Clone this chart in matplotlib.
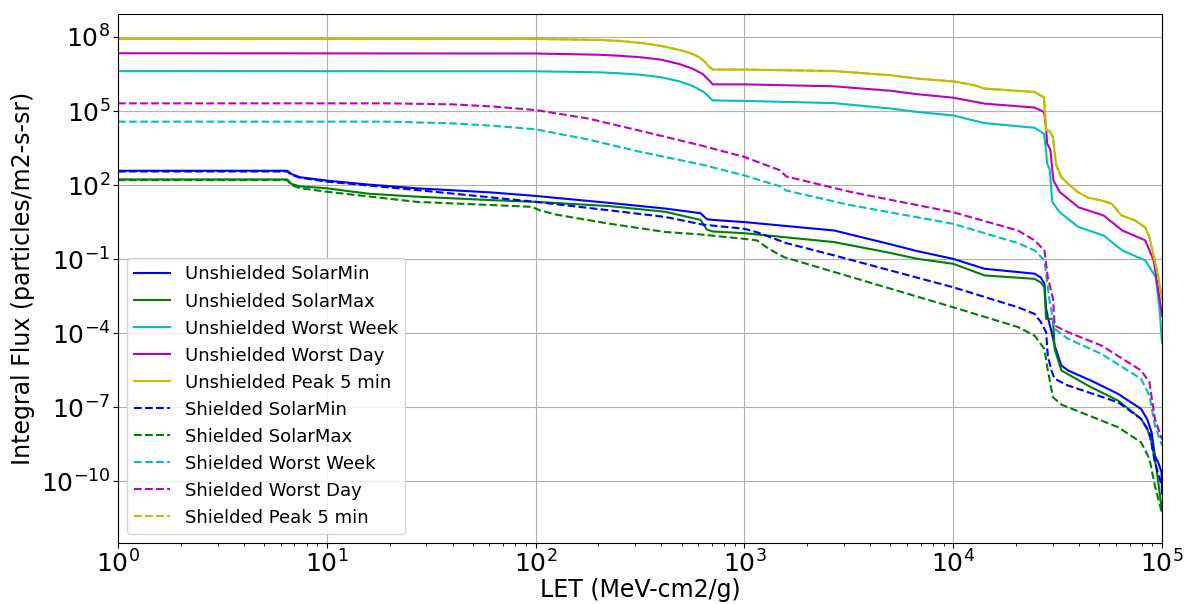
import matplotlib
matplotlib.use("Agg")
import matplotlib.pyplot as plt
from matplotlib.ticker import NullLocator, LogFormatterSciNotation
import numpy as np

# Integral LET spectra; values are log10(LET) and log10(flux)
labels = [
    "Unshielded SolarMin", "Unshielded SolarMax", "Unshielded Worst Week",
    "Unshielded Worst Day", "Unshielded Peak 5 min",
    "Shielded SolarMin", "Shielded SolarMax", "Shielded Worst Week",
    "Shielded Worst Day", "Shielded Peak 5 min",
]
colors = ["b", "g", "c", "m", "y", "b", "g", "c", "m", "y"]
styles = ["-"] * 5 + ["--"] * 5

unsh_min_x = [0, 0.81, 0.83, 0.87, 1.0, 1.2, 1.43, 1.79, 2.0, 2.35, 2.62, 2.79, 2.82, 2.848,
              3.0, 3.43, 3.7, 3.83, 4.0, 4.15, 4.39, 4.42, 4.437, 4.445, 4.453, 4.47,
              4.486, 4.518, 4.55, 4.66, 4.79, 4.90, 4.93, 4.95, 4.966, 4.985, 4.998, 5.0]
unsh_min_y = [2.58, 2.58, 2.45, 2.32, 2.18, 2.02, 1.87, 1.70, 1.56, 1.28, 1.05, 0.86, 0.62, 0.59,
              0.5, 0.16, -0.4, -0.68, -0.99, -1.39, -1.59, -1.75, -2.0, -3.0, -3.35, -3.9,
              -4.5, -5.31, -5.51, -5.92, -6.46, -7.07, -7.5, -8.01, -8.96, -9.3, -9.64, -10.5]

unsh_max_x = [0, 0.81, 0.83, 0.87, 1.0, 1.2, 1.43, 1.79, 2.0, 2.35, 2.62, 2.79, 2.82, 2.848,
              3.0, 3.43, 3.7, 3.83, 4.0, 4.15, 4.39, 4.42, 4.437, 4.445, 4.478, 4.486,
              4.518, 4.66, 4.79, 4.90, 4.93, 4.95, 4.974, 5.0]
unsh_max_y = [2.23, 2.23, 2.05, 1.95, 1.87, 1.65, 1.53, 1.39, 1.32, 1.15, 0.92, 0.59, 0.2, 0.12,
              0.05, -0.31, -0.75, -0.99, -1.19, -1.66, -1.8, -1.95, -2.14, -3.42, -3.42, -4.64,
              -5.51, -6.19, -6.73, -7.47, -7.9, -8.42, -9.5, -11.2]

unsh_week_x = [0, 2.0, 2.3, 2.4, 2.5, 2.6, 2.69, 2.75, 2.8, 2.83, 2.848, 3.0, 3.43, 3.7,
               3.83, 4.0, 4.15, 4.39, 4.435, 4.445, 4.45, 4.462, 4.475, 4.51, 4.6, 4.72,
               4.81, 4.92, 4.97, 4.985, 4.99, 5.0]
unsh_week_y = [6.62, 6.61, 6.57, 6.53, 6.47, 6.37, 6.2, 6.02, 5.8, 5.58, 5.43, 5.41, 5.32, 5.1,
               4.96, 4.82, 4.51, 4.32, 4.08, 3.4, 2.86, 2.65, 1.31, 0.9, 0.3, -0.04,
               -0.65, -1.05, -1.73, -2.8, -3.2, -4.4]

unsh_day_x = [0, 2.0, 2.3, 2.4, 2.5, 2.6, 2.69, 2.75, 2.8, 2.83, 2.848, 3.0, 3.43, 3.7,
              3.83, 4.0, 4.15, 4.39, 4.435, 4.445, 4.45, 4.465, 4.48, 4.51, 4.6, 4.72,
              4.81, 4.92, 4.96, 4.99, 5.0]
unsh_day_y = [7.34, 7.33, 7.28, 7.24, 7.18, 7.08, 6.9, 6.72, 6.5, 6.25, 6.08, 6.08, 6.0, 5.82,
              5.68, 5.54, 5.3, 5.14, 4.96, 4.3, 3.68, 3.45, 2.19, 1.72, 1.1, 0.77,
              0.16, -0.24, -1.05, -2.68, -3.3]

unsh_peak_x = [0, 2.0, 2.31, 2.4, 2.525, 2.6, 2.69, 2.74, 2.78, 2.81, 2.83, 2.848, 3.0, 3.43,
               3.7, 3.83, 4.0, 4.1, 4.15, 4.39, 4.435, 4.445, 4.46, 4.478, 4.486, 4.494,
               4.518, 4.55, 4.6, 4.645, 4.71, 4.76, 4.806, 4.87, 4.918, 4.94, 4.958, 4.98, 5.0]
unsh_peak_y = [7.92, 7.92, 7.88, 7.84, 7.74, 7.64, 7.47, 7.35, 7.2, 7.0, 6.8, 6.68, 6.68, 6.62,
               6.45, 6.31, 6.2, 6.05, 5.91, 5.77, 5.55, 4.22, 4.2, 3.95, 3.3, 2.8,
               2.32, 2.05, 1.7, 1.49, 1.38, 1.24, 0.77, 0.57, 0.3, -0.11, -0.78, -1.6, -2.6]

sh_min_x = [0, 0.81, 0.83, 0.87, 1.0, 1.43, 2.0, 2.35, 2.62, 2.8, 3.0, 3.06, 3.2, 3.43, 4.0,
            4.31, 4.39, 4.42, 4.445, 4.453, 4.47, 4.486, 4.55, 4.79, 4.90, 4.94, 4.966, 5.0]
sh_min_y = [2.55, 2.55, 2.42, 2.3, 2.14, 1.8, 1.32, 0.98, 0.71, 0.4, 0.23, 0.09, -0.35, -0.85,
            -2.14, -2.95, -3.22, -3.55, -3.96, -4.9, -5.5, -5.85, -6.12, -6.8, -7.47, -8.01,
            -9.23, -10.2]

sh_max_x = [0, 0.81, 0.83, 0.87, 1.0, 1.43, 1.79, 1.98, 2.02, 2.1, 2.35, 2.62, 2.79, 3.0,
            3.06, 3.12, 3.19, 4.0, 4.31, 4.39, 4.437, 4.453, 4.478, 4.52, 4.55, 4.79,
            4.90, 4.94, 4.966, 5.0]
sh_max_y = [2.2, 2.2, 2.0, 1.88, 1.73, 1.32, 1.19, 1.12, 0.98, 0.8, 0.44, 0.1, 0.0, -0.18,
            -0.24, -0.6, -0.92, -2.95, -3.75, -4.1, -4.64, -5.5, -6.6, -6.9, -7.0, -7.81,
            -8.42, -9.09, -10.18, -11.3]

sh_week_x = [0, 1.3, 1.6, 1.8, 2.0, 2.25, 2.5, 2.79, 3.0, 3.17, 3.2, 3.5, 4.0, 4.31,
             4.39, 4.437, 4.445, 4.46, 4.486, 4.55, 4.71, 4.90, 4.94, 4.966, 5.0]
sh_week_y = [4.57, 4.57, 4.5, 4.4, 4.26, 3.85, 3.35, 2.84, 2.39, 1.95, 1.78, 1.2, 0.43, -0.35,
             -0.65, -1.05, -1.6, -2.6, -3.82, -4.23, -4.84, -5.85, -6.53, -7.74, -8.55]

sh_day_x = [0, 1.3, 1.6, 1.8, 2.0, 2.25, 2.5, 2.79, 3.0, 3.17, 3.2, 3.51, 4.0, 4.31,
            4.39, 4.437, 4.453, 4.478, 4.486, 4.55, 4.71, 4.90, 4.94, 4.966, 5.0]
sh_day_y = [5.31, 5.31, 5.27, 5.18, 5.04, 4.7, 4.2, 3.61, 3.14, 2.6, 2.35, 1.72, 0.9, 0.16,
            -0.24, -0.65, -1.73, -2.6, -3.69, -3.96, -4.5, -5.51, -5.99, -7.47, -8.3]

sh_peak_x = list(unsh_peak_x)
sh_peak_y = list(unsh_peak_y)

series = [
    (unsh_min_x, unsh_min_y), (unsh_max_x, unsh_max_y), (unsh_week_x, unsh_week_y),
    (unsh_day_x, unsh_day_y), (unsh_peak_x, unsh_peak_y),
    (sh_min_x, sh_min_y), (sh_max_x, sh_max_y), (sh_week_x, sh_week_y),
    (sh_day_x, sh_day_y), (sh_peak_x, sh_peak_y),
]

fig = plt.figure(figsize=(11.84, 6.04), dpi=100)
ax = fig.add_axes([0.0997, 0.101, 0.8817, 0.8758])

for (lx, ly), lab, col, ls in zip(series, labels, colors, styles):
    ax.plot(10.0 ** np.asarray(lx), 10.0 ** np.asarray(ly), color=col,
            linestyle=ls, linewidth=1.5, label=lab)

ax.set_xscale("log")
ax.set_yscale("log")
ax.set_xlim(1, 1e5)
ax.set_ylim(10 ** -12.5, 10 ** 8.93)
ax.set_yticks([10.0 ** k for k in range(-10, 9, 3)])
ax.yaxis.set_major_formatter(LogFormatterSciNotation())
ax.yaxis.set_minor_locator(NullLocator())
ax.tick_params(axis="both", which="major", labelsize=18, pad=2)
ax.grid(True, which="major")

ax.set_xlabel("LET (MeV-cm2/g)", fontsize=17, labelpad=0)
ax.set_ylabel("Integral Flux (particles/m2-s-sr)", fontsize=17, labelpad=4)
ax.legend(loc="lower left", fontsize=13)

fig.savefig("out.png", dpi=100)
